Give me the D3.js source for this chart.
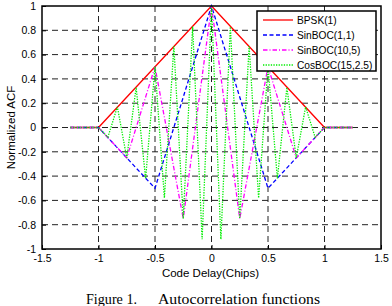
<!DOCTYPE html>
<html>
<head>
<meta charset="utf-8">
<script src="https://cdn.jsdelivr.net/npm/d3@7"></script>
<style>
  body { margin: 0; background: #fff; }
  svg text { font-family: "Liberation Sans", Arial, sans-serif; }
</style>
</head>
<body>
<div id="graph"></div>
<script>
//data
var tauBpsk = [-1.25, -1, 0, 1, 1.25];
var acfBpsk = [0, 0, 1, 0, 0];

var tauBoc11 = [-1.25, -1, -0.5, 0, 0.5, 1, 1.25];
var acfBoc11 = [0, 0, -0.5, 1, -0.5, 0, 0];

var tauBoc105 = [-1.25, -1, -0.75, -0.5, -0.25, 0, 0.25, 0.5, 0.75, 1, 1.25];
var acfBoc105 = [0, 0, -0.25, 0.5, -0.75, 1, -0.75, 0.5, -0.25, 0, 0];

var tauCos = [-1.25, -1, -0.917, -0.833, -0.75, -0.667, -0.583, -0.5, -0.417, -0.333, -0.25, -0.167, -0.083,
              0, 0.083, 0.167, 0.25, 0.333, 0.417, 0.5, 0.583, 0.667, 0.75, 0.833, 0.917, 1, 1.25];
var acfCos = [0, 0, -0.08, 0.17, -0.25, 0.33, -0.42, 0.5, -0.58, 0.67, -0.75, 0.83, -0.92,
              1, -0.92, 0.83, -0.75, 0.67, -0.58, 0.5, -0.42, 0.33, -0.25, 0.17, -0.08, 0, 0];

var xTicks = [-1.5, -1, -0.5, 0, 0.5, 1, 1.5];
var yTicks = [-1, -0.8, -0.6, -0.4, -0.2, 0, 0.2, 0.4, 0.6, 0.8, 1];

var seriesNames = ["BPSK(1)", "SinBOC(1,1)", "SinBOC(10,5)", "CosBOC(15,2.5)"];

//measurements
var width = 392;
var height = 306;
var margin = { top: 6, right: 11, bottom: 57, left: 42 };
var chartWidth = width - margin.left - margin.right;
var chartHeight = height - margin.top - margin.bottom;

var styles = [
    { color: "#ff0000", dash: null },
    { color: "#0000ff", dash: "4,2.5" },
    { color: "#ff00ff", dash: "4.5,2,1,2" },
    { color: "#00ee00", dash: "1.3,1.3" }
];

var chart = d3.select("#graph").append("svg")
    .attr("width", width)
    .attr("height", height);

chart.plotArea = chart.append("g")
    .attr("transform", "translate(" + margin.left + "," + margin.top + ")");

var xScale = d3.scaleLinear().domain([-1.5, 1.5]).range([0, chartWidth]);
var yScale = d3.scaleLinear().domain([-1, 1]).range([chartHeight, 0]);

// grid
chart.plotArea.selectAll(".vgrid")
    .data(xTicks.slice(1, -1))
    .enter().append("line")
      .attr("x1", function(d) { return xScale(d); })
      .attr("x2", function(d) { return xScale(d); })
      .attr("y1", 0)
      .attr("y2", chartHeight)
      .style("stroke", "#222")
      .style("stroke-width", 1)
      .style("stroke-dasharray", "6,4");

chart.plotArea.selectAll(".hgrid")
    .data(yTicks.slice(1, -1))
    .enter().append("line")
      .attr("x1", 0)
      .attr("x2", chartWidth)
      .attr("y1", function(d) { return yScale(d); })
      .attr("y2", function(d) { return yScale(d); })
      .style("stroke", "#222")
      .style("stroke-width", 1)
      .style("stroke-dasharray", "6,4");

// curves
var allSeries = [
    d3.zip(tauBpsk, acfBpsk),
    d3.zip(tauBoc11, acfBoc11),
    d3.zip(tauBoc105, acfBoc105),
    d3.zip(tauCos, acfCos)
];

var line = d3.line()
    .x(function(d) { return xScale(d[0]); })
    .y(function(d) { return yScale(d[1]); });

allSeries.forEach(function(s, i) {
    chart.plotArea.append("path")
        .datum(s)
        .attr("d", line)
        .style("fill", "none")
        .style("stroke", styles[i].color)
        .style("stroke-width", 1.3)
        .style("stroke-dasharray", styles[i].dash);
});

// axes
var xAxis = d3.axisBottom(xScale).tickValues(xTicks).tickSize(-4).tickPadding(6)
    .tickFormat(function(d) { return String(d); });
var yAxis = d3.axisLeft(yScale).tickValues(yTicks).tickSize(-4).tickPadding(6)
    .tickFormat(function(d) { return String(d); });

chart.append("g")
    .attr("transform", "translate(" + margin.left + "," + (margin.top + chartHeight) + ")")
    .call(xAxis)
    .call(function(g) { g.select(".domain").remove(); })
    .selectAll("text").style("font-size", "10.5px").style("fill", "#000");

chart.append("g")
    .attr("transform", "translate(" + margin.left + "," + margin.top + ")")
    .call(yAxis)
    .call(function(g) { g.select(".domain").remove(); })
    .selectAll("text").style("font-size", "10.5px").style("fill", "#000");

// frame
chart.plotArea.append("rect")
    .attr("width", chartWidth)
    .attr("height", chartHeight)
    .style("fill", "none")
    .style("stroke", "#000")
    .style("stroke-width", 1.5);

// axis labels
chart.append("text")
    .style("font-size", "11.5px")
    .attr("text-anchor", "middle")
    .attr("x", margin.left + chartWidth / 2 - 1)
    .attr("y", 277)
    .text("Code Delay(Chips)");

chart.append("text")
    .style("font-size", "11.5px")
    .attr("text-anchor", "middle")
    .attr("transform", "translate(15," + (margin.top + chartHeight / 2) + ") rotate(-90)")
    .text("Normalized ACF");

// caption
chart.append("text")
    .style("font-family", "'Liberation Serif', 'Times New Roman', serif")
    .style("font-size", "14.5px")
    .attr("x", 86)
    .attr("y", 304)
    .attr("textLength", 51)
    .attr("lengthAdjust", "spacingAndGlyphs")
    .text("Figure 1.");

chart.append("text")
    .style("font-family", "'Liberation Serif', 'Times New Roman', serif")
    .style("font-size", "14.5px")
    .attr("x", 158)
    .attr("y", 304)
    .attr("textLength", 162)
    .attr("lengthAdjust", "spacingAndGlyphs")
    .text("Autocorrelation functions");

// legend
var legend = chart.append("g").attr("transform", "translate(257,11)");
legend.append("rect")
    .attr("width", 119)
    .attr("height", 60)
    .style("fill", "#fff")
    .style("stroke", "#000")
    .style("stroke-width", 1.5);

seriesNames.forEach(function(name, i) {
    var yy = 9 + i * 15;
    legend.append("line")
        .attr("x1", 6).attr("x2", 36)
        .attr("y1", yy).attr("y2", yy)
        .style("stroke", styles[i].color)
        .style("stroke-width", 1.3)
        .style("stroke-dasharray", styles[i].dash);
    legend.append("text")
        .attr("x", 40)
        .attr("y", yy + 4)
        .style("font-size", "10.2px")
        .text(name);
});
</script>
</body>
</html>
